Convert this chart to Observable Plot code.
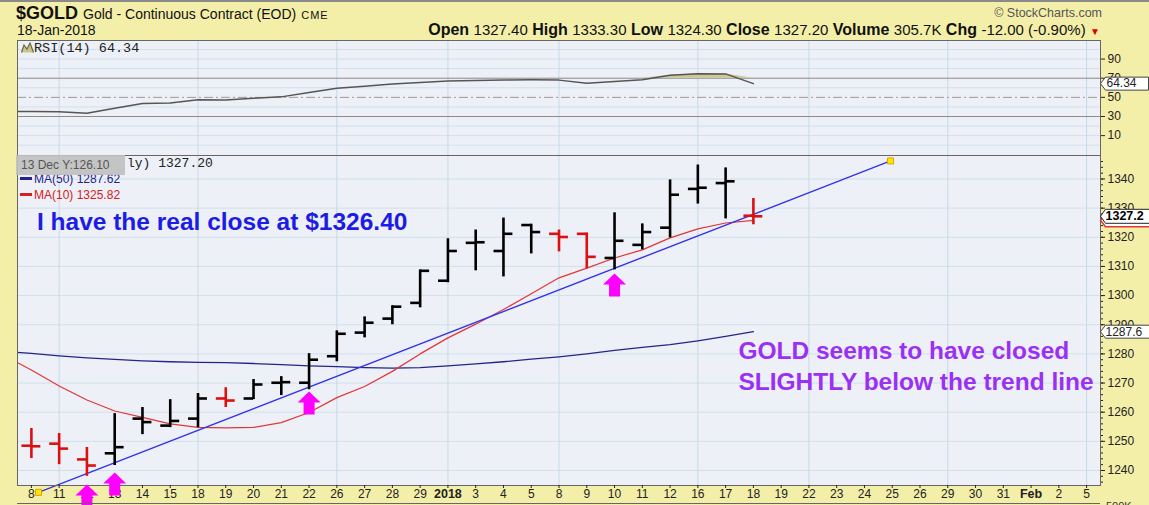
<!DOCTYPE html>
<html><head><meta charset="utf-8">
<script src="https://cdn.jsdelivr.net/npm/d3@7"></script>
<script src="https://cdn.jsdelivr.net/npm/@observablehq/plot@0.6"></script>
<style>
body{margin:0;width:1149px;height:505px;overflow:hidden;position:relative;background:#f4efa8;font-family:"Liberation Sans",Arial,sans-serif;color:#111}
.abs{position:absolute;white-space:nowrap}
.mono{font-family:"Liberation Mono","DejaVu Sans Mono",monospace}
.n{font-size:15px}
</style></head><body>
<div class="abs" style="left:0;top:0;width:1149px;height:2px;background:#8a8a8a"></div>
<div class="abs" style="left:16px;top:2px;font-size:18px;font-weight:bold;line-height:22px">$GOLD <span style="font-size:14px;font-weight:normal">Gold - Continuous Contract (EOD)</span> <span style="font-size:11px;font-weight:normal;letter-spacing:1px">CME</span></div>
<div class="abs" style="left:17px;top:22px;font-size:14px;line-height:16px">18-Jan-2018</div>
<div class="abs" style="right:47px;top:5px;font-size:12.5px;line-height:16px;color:#555">© StockCharts.com</div>
<div class="abs" style="right:49px;top:21px;font-size:16px;line-height:18px"><b>Open</b> <span class="n">1327.40</span> <b>High</b> <span class="n">1333.30</span> <b>Low</b> <span class="n">1324.30</span> <b>Close</b> <span class="n">1327.20</span> <b>Volume</b> <span class="n">305.7K</span> <b>Chg</b> <span class="n">-12.00 (-0.90%)</span> <span style="color:#d00;font-size:10px">▼</span></div>
<div id="rsi" class="abs" style="left:0;top:39px"></div>
<div id="price" class="abs" style="left:0;top:154px"></div>
<div class="abs mono" style="left:21px;top:41px;font-size:13.5px;line-height:16px;color:#222"><svg width="13" height="11" style="vertical-align:-1px"><polyline points="0.5,10.5 3,3 6,7 9,1 12.5,10.5" fill="#c9c38f" stroke="#6b6b3a" stroke-width="1.2"/></svg>RSI(14) 64.34</div>
<div class="abs" style="left:20px;top:172px;font-size:12px;line-height:14px;color:#24248a"><span style="display:inline-block;width:12px;height:3px;background:#24248a;vertical-align:3px;margin-right:2px"></span>MA(50) 1287.62</div>
<div class="abs" style="left:20px;top:188px;font-size:12px;line-height:14px;color:#d42020"><span style="display:inline-block;width:12px;height:3px;background:#d42020;vertical-align:3px;margin-right:2px"></span>MA(10) 1325.82</div>
<div class="abs" style="left:16px;top:155px;width:109px;height:20px;background:rgba(192,192,192,0.92)"></div>
<div class="abs" style="left:21px;top:157px;font-size:12px;line-height:16px;color:#555">13 Dec Y:126.10</div>
<div class="abs mono" style="left:127px;top:156px;font-size:13px;line-height:16px;color:#222">ly) 1327.20</div>
<div class="abs" style="left:17px;top:503px;width:1083px;height:1px;background:#666"></div>
<div class="abs" style="left:1106px;top:500px;font-size:11px;line-height:12px;color:#333">500K</div>
<script>
// ---- data ----
const dateLabels = ["8","11","12","13","14","15","18","19","20","21","22","26","27","28","29","2018","3","4","5","8","9","10","11","12","16","17","18","19","22","23","24","25","26","29","30","31","Feb","2","5"];
const boldTicks = [15, 36];
const weekStarts = [1, 6, 11, 15, 19, 24, 28, 33, 38];
const opens  = [1248.5,1249.2,1243.8,1245.9,1257.8,1255.4,1257.8,1264.7,1264.7,1270.1,1270.1,1279.2,1287.3,1292.1,1297.5,1305.1,1318.1,1315.3,1324.2,1321.2,1321.2,1312.9,1317.4,1323.3,1336.6,1338.6,1327.4];
const highs  = [1254.4,1252.7,1247.9,1259.5,1261.6,1264.3,1266.4,1268.4,1271.2,1272.2,1280.1,1287.9,1292.7,1296.5,1308.8,1319.5,1322.5,1326.6,1324.5,1322.5,1321.5,1328.4,1324.6,1339.7,1344.8,1343.8,1333.3];
const lows   = [1244.1,1242.0,1238.0,1241.7,1252.3,1254.7,1254.7,1261.6,1264.3,1265.7,1267.7,1277.3,1285.5,1290.0,1295.8,1304.4,1308.5,1306.4,1314.3,1315.0,1309.2,1308.8,1315.7,1319.8,1331.4,1326.3,1324.3];
const closes = [1248.3,1247.5,1241.7,1248.0,1256.6,1257.0,1264.7,1264.0,1269.5,1270.3,1278.0,1286.9,1290.7,1296.2,1308.5,1315.3,1318.3,1321.2,1321.8,1320.1,1313.3,1318.8,1321.8,1334.6,1337.0,1339.2,1327.2];
const barUp  = [0,0,0,1,1,1,1,0,1,1,1,1,1,1,1,1,1,1,1,0,0,1,1,1,1,1,0];
// moving averages and RSI start one session earlier (Dec 7, index -1)
const ma10 = [1279.5,1274.5,1269.0,1264.2,1260.4,1258.2,1256.0,1254.8,1254.6,1254.8,1256.4,1259.9,1265.0,1268.8,1274.0,1280.0,1285.5,1290.2,1295.2,1300.6,1306.1,1309.4,1312.9,1315.7,1319.8,1322.9,1324.9,1325.82];
const ma50 = [1280.8,1280.2,1279.3,1278.6,1278.1,1277.6,1277.3,1277.1,1277.0,1276.7,1276.3,1275.9,1275.6,1275.3,1275.1,1275.3,1275.9,1276.6,1277.3,1278.2,1279.0,1280.0,1281.2,1282.2,1283.2,1284.5,1286.0,1287.62];
const rsi14 = [35.3,35.3,35.0,33.4,38.5,43.5,44.0,47.5,47.3,49.0,50.5,55.0,59.5,61.5,64.0,65.5,67.0,67.5,68.0,68.3,68.0,64.8,66.5,68.5,73.0,74.6,74.5,64.34];
const trendIdx = [0.256, 30.94];
const trendPrice = [1232.5, 1346.2];
const arrowIdx = [2, 3, 10, 21];
const arrowPrice = [1235.2, 1239.3, 1267.1, 1307.6];
const noteText = ["I have the real close at $1326.40", "GOLD seems to have closed", "SLIGHTLY below the trend line"];
const noteIdx = [0.2, 25.46, 25.46];
const notePrice = [1325.1, 1280.8, 1270.2];
const noteColor = ["#1c1ce6", "#9b30f5", "#9b30f5"];

// ---- tables ----
const bars = opens.map((o, i) => ({i, open: o, high: highs[i], low: lows[i], close: closes[i], up: barUp[i] === 1}));
const ma10Rows = ma10.map((v, k) => ({i: k - 1, v}));
const ma50Rows = ma50.map((v, k) => ({i: k - 1, v}));
const rsiRows = rsi14.map((v, k) => ({i: k - 1, v}));
const trend = trendIdx.map((i, k) => ({i, p: trendPrice[k]}));
const arrows = arrowIdx.map((i, k) => ({i, p: arrowPrice[k]}));
const notes = noteText.map((t, k) => ({t, i: noteIdx[k], p: notePrice[k], c: noteColor[k]}));
const lastIdx = bars.length - 1;
const edge = 38.5;

const tag = (w, h) => ({draw(ctx) { ctx.moveTo(0, 0); ctx.lineTo(5, -h / 2); ctx.lineTo(w, -h / 2); ctx.lineTo(w, h / 2); ctx.lineTo(5, h / 2); ctx.closePath(); }});
const arrowSym = {draw(ctx) { ctx.moveTo(0, 0); ctx.lineTo(11.5, 11); ctx.lineTo(5.5, 11); ctx.lineTo(5.5, 23); ctx.lineTo(-5.5, 23); ctx.lineTo(-5.5, 11); ctx.lineTo(-11.5, 11); ctx.closePath(); }};

const xScale = {domain: [-0.5, 38.5], range: [17, 1100]};
const baseStyle = {background: "transparent", overflow: "visible", fontFamily: "'Liberation Sans', Arial, sans-serif", color: "#222"};
const gridColor = "#cfe0ec";
const UP = "#000", DOWN = "#dc1010";
const TW = 0.34;
const plain = d => String(d);

const rsiPlot = Plot.plot({
  width: 1149, height: 117, marginTop: 1, marginBottom: 1, marginLeft: 17, marginRight: 49,
  x: {...xScale, axis: null},
  y: {domain: [-10.76, 109.4], axis: null},
  style: baseStyle,
  marks: [
    Plot.frame({fill: "#eef0f7", stroke: "none"}),
    Plot.ruleY([0, 10, 20, 40, 60, 80, 90, 100], {stroke: gridColor}),
    Plot.ruleX(weekStarts, {stroke: "#c3dae8"}),
    Plot.ruleY([70, 30], {stroke: "#8a8a8a"}),
    Plot.ruleY([50], {stroke: "#9a9a9a", strokeDasharray: "9,3,2,3"}),
    Plot.areaY(rsiRows, {x: "i", y1: 70, y2: d => Math.max(70, d.v), fill: "#cdc994", clip: true}),
    Plot.line(rsiRows, {x: "i", y: "v", stroke: "#555", strokeWidth: 1.5, clip: true}),
    Plot.frame({stroke: "#666"}),
    Plot.axisY({anchor: "right", ticks: [10, 30, 50, 70, 90], tickSize: 4, tickPadding: 3, fontSize: 12, tickFormat: plain, label: null}),
    Plot.dot([rsiRows[rsiRows.length - 1]], {x: () => edge, y: "v", symbol: tag(48, 13), fill: "white", stroke: "#444", strokeWidth: 1}),
    Plot.text([rsiRows[rsiRows.length - 1]], {x: () => edge, y: "v", text: d => d.v.toFixed(2), dx: 6, textAnchor: "start", fontSize: 12, fill: "#222"})
  ]
});
document.getElementById("rsi").appendChild(rsiPlot);

const last = bars[lastIdx];
const pricePlot = Plot.plot({
  width: 1149, height: 351, marginTop: 1, marginBottom: 20, marginLeft: 17, marginRight: 49,
  x: {...xScale},
  y: {domain: [1234.85, 1348.06], axis: null},
  style: baseStyle,
  marks: [
    Plot.frame({fill: "#eef0f7", stroke: "none"}),
    Plot.ruleY(d3.range(1240, 1341, 10), {stroke: gridColor}),
    Plot.ruleX(weekStarts, {stroke: "#c3dae8"}),
    Plot.line(ma50Rows, {x: "i", y: "v", stroke: "#24248a", strokeWidth: 1.3, clip: true}),
    Plot.line(ma10Rows, {x: "i", y: "v", stroke: "#e23636", strokeWidth: 1.2, clip: true}),
    Plot.line(trend, {x: "i", y: "p", stroke: "#3434e8", strokeWidth: 1.4}),
    Plot.ruleX(bars.filter(d => d.up), {x: "i", y1: "low", y2: "high", stroke: UP, strokeWidth: 2.6}),
    Plot.ruleY(bars.filter(d => d.up), {x1: d => d.i - TW, x2: "i", y: "open", stroke: UP, strokeWidth: 2.6}),
    Plot.ruleY(bars.filter(d => d.up), {x1: "i", x2: d => d.i + TW, y: "close", stroke: UP, strokeWidth: 2.6}),
    Plot.ruleX(bars.filter(d => !d.up), {x: "i", y1: "low", y2: "high", stroke: DOWN, strokeWidth: 2.6}),
    Plot.ruleY(bars.filter(d => !d.up), {x1: d => d.i - TW, x2: "i", y: "open", stroke: DOWN, strokeWidth: 2.6}),
    Plot.ruleY(bars.filter(d => !d.up), {x1: "i", x2: d => d.i + TW, y: "close", stroke: DOWN, strokeWidth: 2.6}),
    Plot.dot(trend, {x: "i", y: "p", symbol: "square", r: 3.4, fill: "#ffe600", stroke: "#e0a000", strokeWidth: 1}),
    Plot.text(notes, {x: "i", y: "p", text: "t", fill: "c", textAnchor: "start", fontSize: 24.5, fontWeight: "bold"}),
    Plot.frame({stroke: "#666"}),
    Plot.axisX({ticks: d3.range(0, 39).filter(i => !boldTicks.includes(i)), tickFormat: i => dateLabels[i], tickSize: 3, tickPadding: 1, fontSize: 12, label: null}),
    Plot.axisX({ticks: boldTicks, tickFormat: i => dateLabels[i], tickSize: 3, tickPadding: 1, fontSize: 12.5, fontWeight: "bold", label: null}),
    Plot.axisY({anchor: "right", ticks: d3.range(1236, 1348, 2), tickSize: 2, tickFormat: () => "", label: null}),
    Plot.axisY({anchor: "right", ticks: d3.range(1240, 1341, 10), tickSize: 4, tickPadding: 3, fontSize: 12, tickFormat: plain, label: null}),
    Plot.dot(arrows, {x: "i", y: "p", symbol: arrowSym, fill: "#ff00ff", stroke: "none"}),
    Plot.dot([ma50Rows[ma50Rows.length - 1]], {x: () => edge, y: "v", symbol: tag(60, 13), fill: "white", stroke: "#444", strokeWidth: 1}),
    Plot.text([ma50Rows[ma50Rows.length - 1]], {x: () => edge, y: "v", text: d => d.v.toFixed(1), dx: 5, textAnchor: "start", fontSize: 12, fill: "#222"}),
    Plot.dot([ma10Rows[ma10Rows.length - 1]], {x: () => edge, y: "v", symbol: tag(60, 13), fill: "white", stroke: "#e23636", strokeWidth: 1.5}),
    Plot.dot([last], {x: () => edge, y: "close", symbol: tag(60, 14), fill: "white", stroke: "#222", strokeWidth: 1}),
    Plot.text([last], {x: () => edge, y: "close", text: d => d.close.toFixed(1), dx: 5, textAnchor: "start", fontSize: 12.5, fontWeight: "bold", fill: "#000"})
  ]
});
document.getElementById("price").appendChild(pricePlot);
</script>
</body></html>
